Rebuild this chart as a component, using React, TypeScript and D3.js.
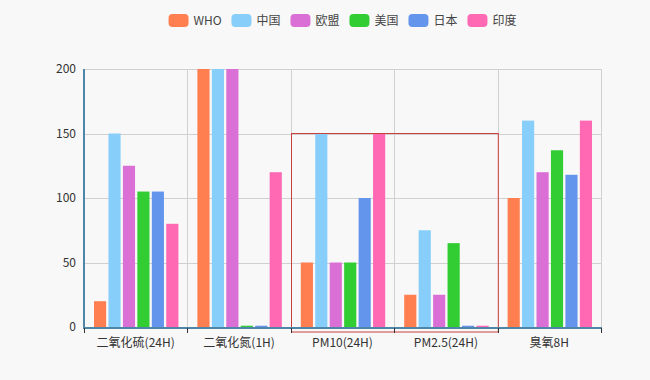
import React from "react";
import * as d3 from "d3";

const categories = ["二氧化硫(24H)", "二氧化氮(1H)", "PM10(24H)", "PM2.5(24H)", "臭氧8H"];
const seriesNames = ["WHO", "中国", "欧盟", "美国", "日本", "印度"];
const seriesColors = ["#ff7f50", "#87cefa", "#da70d6", "#32cd32", "#6495ed", "#ff69b4"];
const whoValues = [20, 200, 50, 25, 100];
const chinaValues = [150, 200, 150, 75, 160];
const euValues = [125, 200, 50, 25, 120];
const usValues = [105, 1, 50, 65, 137];
const japanValues = [105, 1, 100, 1, 118];
const indiaValues = [80, 120, 150, 1, 160];
const seriesValues = [whoValues, chinaValues, euValues, usValues, japanValues, indiaValues];
const yTicks = [0, 50, 100, 150, 200];
const highlightCats = ["PM10(24H)", "PM2.5(24H)"];
const highlightTop = 150;

const W = 650, H = 380;
const left = 84, right = 601, top = 69, bottom = 327;
const FONT = "'Noto Sans CJK SC', 'Noto Sans', sans-serif";

export default function App() {
  const x0 = d3.scaleBand<string>().domain(categories).range([left, right]).padding(0);
  const bw = x0.bandwidth();
  const x1 = d3.scaleBand<string>().domain(seriesNames).range([10, bw - 9]).paddingInner(0.16).paddingOuter(0);
  const y = d3.scaleLinear().domain([0, 200]).range([bottom, top]);

  const textW = (s: string) => (/^[\x00-\x7f]+$/.test(s) ? s.length * 9.3 : s.length * 12);
  const itemWidths = seriesNames.map((s) => 20 + 5 + textW(s));
  const totalW = itemWidths.reduce((a, b) => a + b, 0) + 10 * (seriesNames.length - 1);
  let lx = (left + right) / 2 - totalW / 2;
  const legendItems = seriesNames.map((s, i) => {
    const item = { name: s, x: lx, color: seriesColors[i] };
    lx += itemWidths[i] + 10;
    return item;
  });

  const boundaries = categories.map((c) => x0(c)!).concat([right]);
  const hx0 = x0(highlightCats[0])!;
  const hx1 = x0(highlightCats[1])! + bw;

  return (
    <svg width={W} height={H} style={{ position: "absolute", left: 0, top: 0, fontFamily: FONT }}>
      <rect x={0} y={0} width={W} height={H} fill="#f8f8f8" />
      {legendItems.map((it) => (
        <g key={it.name}>
          <rect x={it.x} y={14} width={20} height={13} rx={4} fill={it.color} />
          <text x={it.x + 25} y={20.5} dy="0.35em" fontSize={12} fill="#444">{it.name}</text>
        </g>
      ))}
      {yTicks.map((t) => (
        <line key={t} x1={left} x2={right} y1={Math.round(y(t)) + 0.5} y2={Math.round(y(t)) + 0.5} stroke="#d0d0d0" strokeWidth={1} />
      ))}
      {boundaries.map((b, i) => (
        <line key={i} x1={Math.round(b) + 0.5} x2={Math.round(b) + 0.5} y1={top} y2={bottom} stroke="#d0d0d0" strokeWidth={1} />
      ))}
      {categories.map((c, ci) => (
        <g key={c} transform={`translate(${x0(c)},0)`}>
          {seriesNames.map((s, si) => {
            const v = seriesValues[si][ci];
            return (
              <rect key={s} x={x1(s)} y={y(v)} width={x1.bandwidth()} height={bottom - y(v)} fill={seriesColors[si]} />
            );
          })}
        </g>
      ))}
      <rect x={Math.round(hx0) + 0.5} y={Math.round(y(highlightTop)) - 0.5} width={hx1 - hx0} height={bottom + 5 - y(highlightTop)} fill="none" stroke="#c8403c" strokeWidth={1} />
      <line x1={left} x2={right + 1} y1={bottom + 1} y2={bottom + 1} stroke="#4f86a8" strokeWidth={2} />
      <line x1={left} x2={left} y1={top} y2={bottom + 2} stroke="#4f86a8" strokeWidth={2} />
      {boundaries.map((b, i) => (
        <line key={i} x1={Math.round(b) + 0.5} x2={Math.round(b) + 0.5} y1={bottom + 1} y2={bottom + 6} stroke="#333" strokeWidth={1} />
      ))}
      {yTicks.map((t) => (
        <text key={t} x={76} y={y(t)} dy="0.35em" textAnchor="end" fontSize={12} fill="#333">{t}</text>
      ))}
      {categories.map((c) => (
        <text key={c} x={x0(c)! + bw / 2} y={343} dy="0.35em" textAnchor="middle" fontSize={12} fill="#333">{c}</text>
      ))}
    </svg>
  );
}
